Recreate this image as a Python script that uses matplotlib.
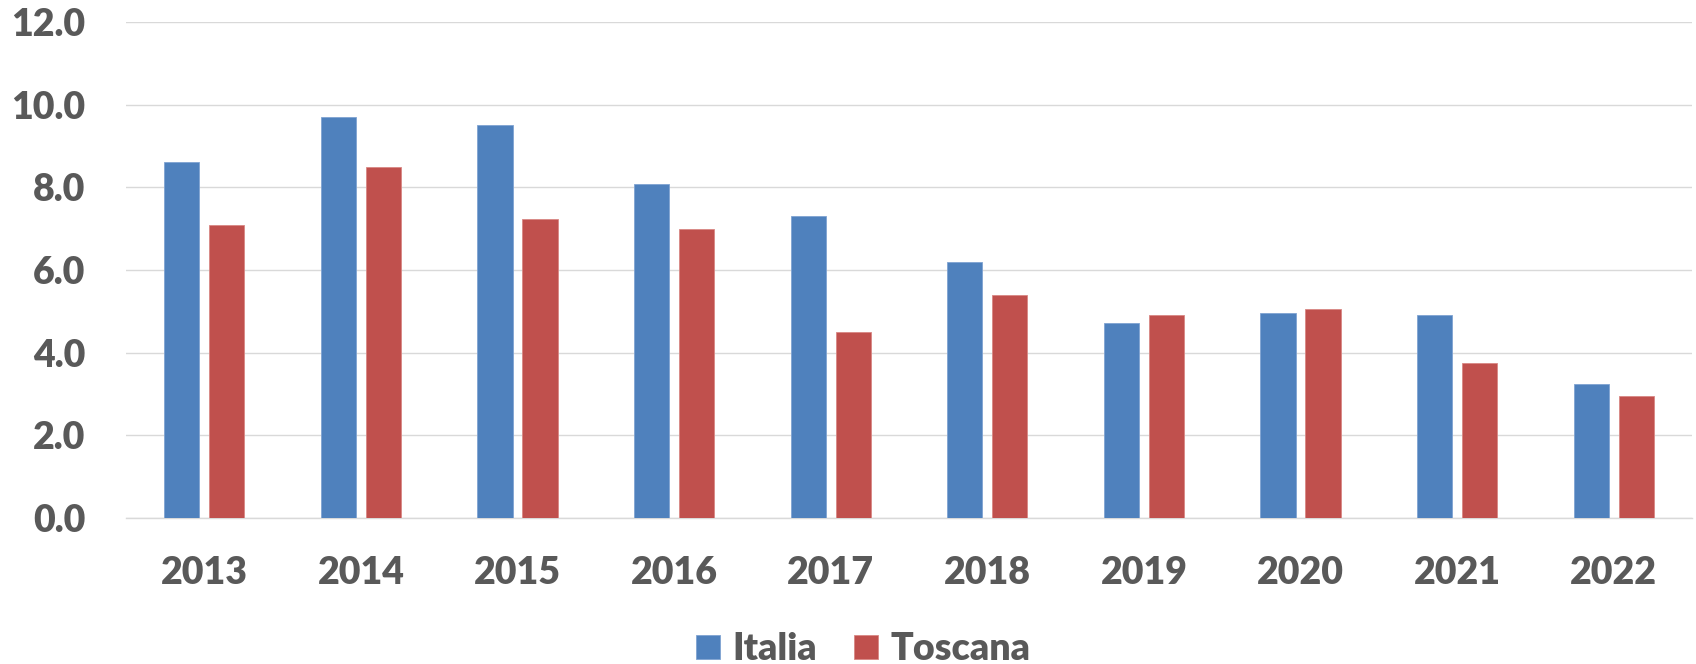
import matplotlib
matplotlib.use("Agg")
import matplotlib.pyplot as plt
import numpy as np

years = ["2013", "2014", "2015", "2016", "2017", "2018", "2019", "2020", "2021", "2022"]
italia = [8.61, 9.69, 9.51, 8.08, 7.30, 6.20, 4.71, 4.96, 4.91, 3.23]
toscana = [7.09, 8.48, 7.24, 7.00, 4.50, 5.39, 4.90, 5.05, 3.76, 2.95]
series_names = ["Italia", "Toscana"]
yticks = [0, 2, 4, 6, 8, 10, 12]

plt.rcParams['font.family'] = ['Lato', 'DejaVu Sans']
FW = 'heavy'

W, H = 1696, 664
fig = plt.figure(figsize=(W / 100, H / 100), dpi=100)
ax = fig.add_axes([126 / W, 1 - 518 / H, 1566 / W, 496 / H])

x = np.arange(len(years))
bw = 0.224
off = 0.1437
blue = "#4F81BD"
red = "#C0504D"
ax.bar(x - off, italia, bw, color=blue, edgecolor="#7FA3D2", linewidth=0.6, label=series_names[0], zorder=3)
ax.bar(x + off, toscana, bw, color=red, edgecolor="#D98784", linewidth=0.6, label=series_names[1], zorder=3)

ax.set_xlim(-0.5, len(years) - 0.5)
ax.set_ylim(0, 12)
ax.set_yticks(yticks)
ax.set_yticklabels([f"{v:.1f}" for v in yticks])
ax.set_xticks(x)
ax.set_xticklabels(years)

tc = "#595959"
ax.tick_params(axis="both", length=0, labelsize=27, labelcolor=tc)
ax.tick_params(axis="y", pad=29)
ax.tick_params(axis="x", pad=27)
for lab in ax.get_xticklabels() + ax.get_yticklabels():
    lab.set_fontweight(FW)

ax.grid(axis="y", color="#D9D9D9", linewidth=1.0)
ax.set_axisbelow(True)
for s in ["top", "right", "left"]:
    ax.spines[s].set_visible(False)
ax.spines["bottom"].set_color("#D9D9D9")
ax.spines["bottom"].set_linewidth(1.0)

leg = fig.legend(loc="center", bbox_to_anchor=(863 / W, 1 - 649 / H), ncol=2, frameon=False,
                 fontsize=27, handlelength=0.64, handleheight=0.61, handletextpad=0.32,
                 columnspacing=1.0, borderpad=0, borderaxespad=0)
for t in leg.get_texts():
    t.set_color(tc)
    t.set_fontweight(FW)

fig.savefig("out.png", dpi=100)
